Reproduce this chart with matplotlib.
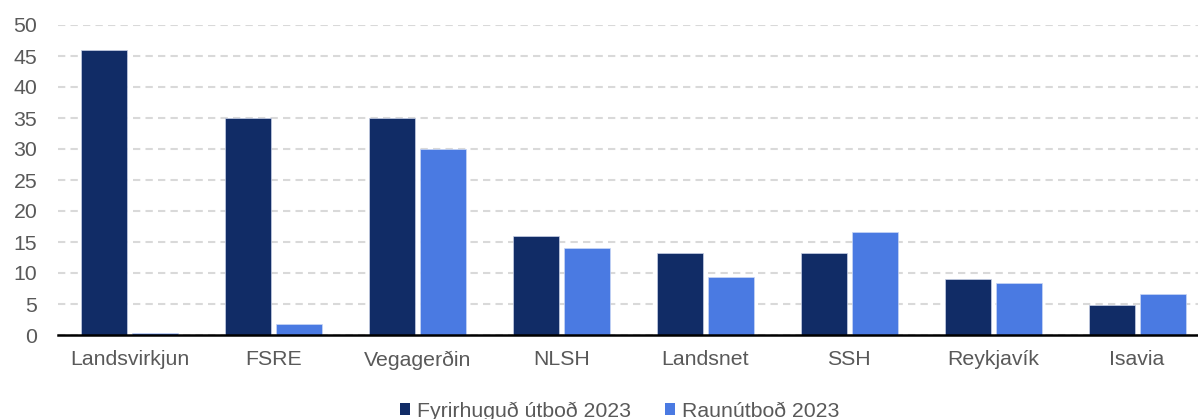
import matplotlib
matplotlib.use("Agg")
import matplotlib.pyplot as plt
import numpy as np
from matplotlib.patches import Patch

categories = ["Landsvirkjun", "FSRE", "Vegagerðin", "NLSH", "Landsnet", "SSH", "Reykjavík", "Isavia"]
planned = [46, 35, 35, 16, 13.3, 13.3, 9.0, 4.9]
actual = [0.3, 1.8, 30, 14, 9.4, 16.6, 8.4, 6.6]
series_names = ["Fyrirhuguð útboð 2023", "Raunútboð 2023"]
yticks = [0, 5, 10, 15, 20, 25, 30, 35, 40, 45, 50]

plt.rcParams['font.family'] = ['Liberation Sans', 'DejaVu Sans']

W, H = 1198, 419
fig = plt.figure(figsize=(W / 100, H / 100), dpi=100)
ax = fig.add_axes([58 / W, (H - 335) / H, 1151 / W, 310 / H])

dark = "#112C66"
light = "#4A7AE2"
x = np.arange(len(categories))
bw = 0.32
gap = 0.035
ax.bar(x - (bw + gap) / 2, planned, bw, color=dark, edgecolor="#c8d0e6", linewidth=0.5, zorder=3)
ax.bar(x + (bw + gap) / 2, actual, bw, color=light, edgecolor="#c8d6f5", linewidth=0.5, zorder=3)

ax.set_xlim(-0.5, len(categories) - 0.5)
ax.set_ylim(0, 50)
ax.set_yticks(yticks)
ax.set_xticks(x)
ax.set_xticklabels(categories)
ax.yaxis.grid(True, color="#D9D9D9", linestyle=(0, (3.5, 2.5)), linewidth=1.5, zorder=0)
for s in ["top", "right", "left"]:
    ax.spines[s].set_visible(False)
ax.spines["bottom"].set_color("black")
ax.spines["bottom"].set_linewidth(1.8)
ax.spines["bottom"].set_zorder(4)
ax.tick_params(axis="both", length=0, labelsize=15.3, labelcolor="#595959")
ax.tick_params(axis="y", pad=15)
ax.tick_params(axis="x", pad=11)

handles = [Patch(facecolor=dark, edgecolor="none"), Patch(facecolor=light, edgecolor="none")]
fig.legend(handles, series_names, loc="center", bbox_to_anchor=(619.5 / W, (H - 411) / H),
           ncol=2, frameon=False, fontsize=15.3, labelcolor="#595959",
           handlelength=0.5, handleheight=0.5, handletextpad=0.3, columnspacing=1.6)

fig.savefig("out.png", dpi=100)
